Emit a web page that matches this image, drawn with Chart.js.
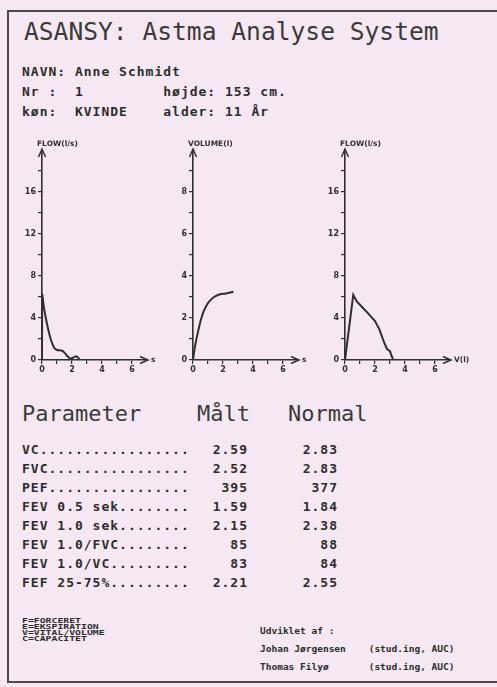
<!DOCTYPE html>
<html><head><meta charset="utf-8">
<script src="https://cdn.jsdelivr.net/npm/chart.js@4.4.1/dist/chart.umd.min.js"></script>
<style>
html,body{margin:0;padding:0;}
body{width:497px;height:687px;background:#f6e8f2;position:relative;overflow:hidden;font-family:"DejaVu Sans Mono",monospace;color:#2c2c2c;}
#frame{position:absolute;left:7px;top:10px;width:492px;height:673px;border-left:2px solid #4a4a4a;border-top:2px solid #4a4a4a;border-bottom:2px solid #4a4a4a;box-sizing:border-box;}
.t{position:absolute;white-space:pre;}
#title{left:24px;top:18px;font-size:24.6px;line-height:28px;color:#3a3a3a;}
.info{left:22px;font-size:13px;line-height:16px;font-weight:bold;letter-spacing:1px;}
.hdr{font-size:22px;line-height:26px;color:#3a3a3a;}
.row{font-size:13px;line-height:16px;font-weight:bold;letter-spacing:1px;}
.leg{left:22px;font-size:9.8px;line-height:10px;font-weight:bold;transform:scaleY(0.7);transform-origin:0 0;}
.dev{font-size:9.5px;line-height:11px;font-weight:bold;}
canvas{position:absolute;}
</style></head>
<body>
<div id="frame"></div>
<div class="t" id="title">ASANSY: Astma Analyse System</div>
<div class="t info" style="top:64px">NAVN: Anne Schmidt</div>
<div class="t info" style="top:84px">Nr :  1         højde: 153 cm.</div>
<div class="t info" style="top:104px">køn:  KVINDE    alder: 11 År</div>

<canvas id="c1" width="162" height="245" style="left:10px;top:135px"></canvas>
<canvas id="c2" width="162" height="245" style="left:161px;top:135px"></canvas>
<canvas id="c3" width="177" height="245" style="left:313px;top:135px"></canvas>

<div class="t hdr" style="left:22px;top:401px">Parameter</div>
<div class="t hdr" style="left:197px;top:401px">Målt</div>
<div class="t hdr" style="left:288px;top:401px">Normal</div>
<div id="table"></div>

<div id="legend"></div>
<div class="t dev" style="left:260px;top:625px">Udviklet af :</div>
<div class="t dev" style="left:260px;top:643px">Johan Jørgensen    (stud.ing, AUC)</div>
<div class="t dev" style="left:260px;top:661px">Thomas Filyø       (stud.ing, AUC)</div>

<script>
// ---- data ----
const flowTimeT = [0, 0.02, 0.1, 0.2, 0.4, 0.6, 0.8, 1.0, 1.3, 1.5, 1.7, 1.9, 2.1, 2.3, 2.5];
const flowTimeF = [0, 6.2, 5.3, 4.4, 3.0, 1.9, 1.2, 0.95, 0.9, 0.7, 0.35, 0.12, 0.25, 0.35, 0.08];
const volTimeT = [0, 0.1, 0.2, 0.35, 0.5, 0.7, 0.9, 1.1, 1.4, 1.8, 2.2, 2.7];
const volTimeV = [0, 0.5, 0.9, 1.4, 1.85, 2.3, 2.6, 2.8, 3.0, 3.13, 3.17, 3.25];
const fvVolume = [0, 0.55, 0.8, 1.2, 1.6, 2.0, 2.3, 2.6, 2.8, 3.0, 3.1, 3.2];
const fvFlow = [0, 6.2, 5.55, 4.95, 4.35, 3.7, 2.9, 1.7, 1.05, 0.85, 0.4, 0.1];
const flowTickLabels = [0, 4, 8, 12, 16];
const volTickLabels = [0, 2, 4, 6, 8];
const xTickLabels = [0, 2, 4, 6];

const paramNames = ["VC", "FVC", "PEF", "FEV 0.5 sek", "FEV 1.0 sek", "FEV 1.0/FVC", "FEV 1.0/VC", "FEF 25-75%"];
const measured = ["2.59", "2.52", "395", "1.59", "2.15", "85", "83", "2.21"];
const normal = ["2.83", "2.83", "377", "1.84", "2.38", "88", "84", "2.55"];
const legendLines = ["F=FORCERET", "E=EKSPIRATION", "V=VITAL/VOLUME", "C=CAPACITET"];

// ---- table ----
const table = document.getElementById('table');
paramNames.forEach((p, i) => {
  const top = 442 + i * 19;
  const lab = document.createElement('div');
  lab.className = 't row'; lab.style.left = '22px'; lab.style.top = top + 'px';
  lab.textContent = p.padEnd(19, '.');
  const m = document.createElement('div');
  m.className = 't row'; m.style.right = (497 - 248) + 'px'; m.style.top = top + 'px';
  m.textContent = measured[i];
  const n = document.createElement('div');
  n.className = 't row'; n.style.right = (497 - 338) + 'px'; n.style.top = top + 'px';
  n.textContent = normal[i];
  table.append(lab, m, n);
});
const legend = document.getElementById('legend');
legendLines.forEach((s, i) => {
  const d = document.createElement('div');
  d.className = 't leg'; d.style.top = (617 + i * 6) + 'px';
  d.textContent = s;
  legend.append(d);
});

// ---- charts ----
const INK = '#2f2f2f';
const decor = {
  id: 'decor',
  afterDraw(chart, args, o) {
    const { ctx, chartArea: a } = chart;
    ctx.save();
    ctx.strokeStyle = INK; ctx.lineWidth = 1.5;
    ctx.beginPath();
    ctx.moveTo(a.left - 3.5, a.top + 7); ctx.lineTo(a.left, a.top - 1); ctx.lineTo(a.left + 3.5, a.top + 7);
    ctx.stroke();
    ctx.beginPath();
    ctx.moveTo(a.right - 7, a.bottom - 3.5); ctx.lineTo(a.right + 1, a.bottom); ctx.lineTo(a.right - 7, a.bottom + 3.5);
    ctx.stroke();
    ctx.fillStyle = INK;
    ctx.font = 'bold 7.5px "DejaVu Sans"';
    ctx.textBaseline = 'middle'; ctx.textAlign = 'left';
    ctx.fillText(o.yTitle, a.left - 5, a.top - 6);
    ctx.fillText(o.xTitle, a.right + 4, a.bottom);
    ctx.restore();
  }
};

function makeChart(id, xs, ys, yMax, yStep, yLabels, xTitle, yTitle, rightPad, tension) {
  const pts = xs.map((x, i) => ({ x: x, y: ys[i] }));
  const tickFont = { size: 8, weight: 'bold', family: 'DejaVu Sans' };
  return new Chart(document.getElementById(id), {
    type: 'line',
    data: { datasets: [{ data: pts, borderColor: INK, borderWidth: 2, pointRadius: 0, tension: tension, fill: false }] },
    options: {
      responsive: false, animation: false, maintainAspectRatio: false,
      layout: { padding: { top: 15, right: rightPad, left: 0, bottom: 0 } },
      plugins: { legend: { display: false }, tooltip: { enabled: false }, decor: { xTitle: xTitle, yTitle: yTitle } },
      scales: {
        x: {
          type: 'linear', min: 0, max: 7,
          afterFit(s) { s.height = 20; },
          ticks: { stepSize: 1, autoSkip: false, maxRotation: 0, padding: 1, font: tickFont, color: INK,
            callback: v => xTickLabels.includes(v) ? String(v) : '' },
          grid: { drawOnChartArea: false, drawTicks: true, tickLength: 4, lineWidth: 1.2,
            tickColor: c => (c.tick && c.tick.value === 7) ? 'rgba(0,0,0,0)' : INK },
          border: { display: true, color: INK, width: 1.6 }
        },
        y: {
          type: 'linear', min: 0, max: yMax,
          afterFit(s) { s.width = 32; },
          ticks: { stepSize: yStep, autoSkip: false, padding: 2, font: tickFont, color: INK,
            callback: v => yLabels.includes(v) ? String(v) : '' },
          grid: { drawOnChartArea: false, drawTicks: true, tickLength: 4, lineWidth: 1.2,
            tickColor: c => (c.tick && c.tick.value === yMax) ? 'rgba(0,0,0,0)' : INK },
          border: { display: true, color: INK, width: 1.6 }
        }
      }
    },
    plugins: [decor]
  });
}

makeChart('c1', flowTimeT, flowTimeF, 20, 2, flowTickLabels, 's', 'FLOW(l/s)', 25, 0.2);
makeChart('c2', volTimeT, volTimeV, 10, 1, volTickLabels, 's', 'VOLUME(l)', 25, 0.3);
makeChart('c3', fvVolume, fvFlow, 20, 2, flowTickLabels, 'V(l)', 'FLOW(l/s)', 40, 0);
</script>
</body></html>
